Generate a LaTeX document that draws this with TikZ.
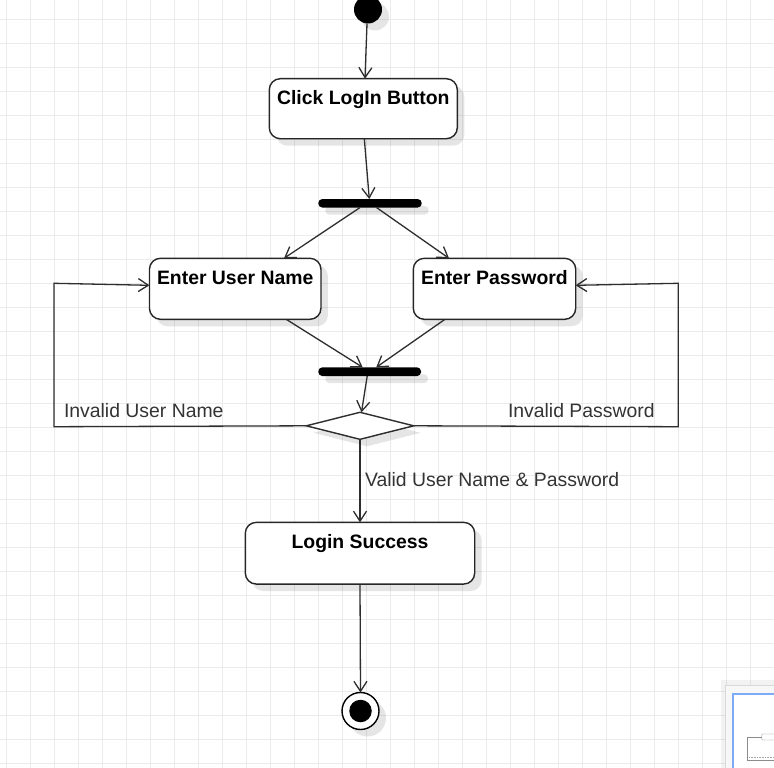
\documentclass[tikz,border=0pt]{standalone}
\usepackage{fontspec}
\setmainfont{Liberation Sans}
\usetikzlibrary{arrows.meta,shapes.geometric,shadows}
\definecolor{gridc}{HTML}{EBEBEB}
\definecolor{linec}{HTML}{2E2E2E}
\definecolor{labc}{HTML}{333333}
\definecolor{outblue}{HTML}{7FAAF5}
\begin{document}
\begin{tikzpicture}[x=1pt,y=-1pt,
  every node/.style={inner sep=0pt, outer sep=0pt},
  softshadow/.style={drop shadow={shadow xshift=7pt,shadow yshift=-7pt,fill=black,opacity=0.1,draw=none}},
  actbox/.style={draw=black!85, line width=1.4pt, rounded corners=11pt, fill=white, softshadow},
  boxtext/.style={font=\fontsize{19.4}{23}\selectfont\bfseries, text=black},
  lab/.style={font=\fontsize{19.4}{23}\selectfont, text=labc, anchor=base west},
  forkbar/.style={fill=black, rounded corners=4pt, minimum width=103pt, minimum height=8.5pt, softshadow},
  conn/.style={draw=linec, line width=1.3pt, -{Straight Barb[length=10pt,width=13pt,line width=1.3pt]}},
]
% background and bounds
\fill[white] (0,0) rectangle (774,768);
\useasboundingbox (0,0) rectangle (774,768);
\foreach \gx in {6,30,...,774} \draw[gridc, line width=0.9pt] (\gx,0) -- (\gx,768);
\foreach \gy in {19,43,...,768} \draw[gridc, line width=0.9pt] (0,\gy) -- (774,\gy);

% nodes
\node[circle, fill=black, minimum size=28pt, softshadow] (init) at (368,9.5) {};
\node[actbox, minimum width=188pt, minimum height=60pt,
      label={[boxtext, anchor=base, yshift=-25.6pt]north:Click LogIn Button}] (click) at (363.3,108.7) {};
\node[forkbar, minimum width=103.4pt] (fork1) at (370,203.3) {};
\node[actbox, minimum width=171.5pt, minimum height=61pt,
      label={[boxtext, anchor=base, yshift=-26pt]north:Enter User Name}] (user) at (235.2,288.8) {};
\node[actbox, minimum width=162.4pt, minimum height=61pt,
      label={[boxtext, anchor=base, yshift=-26pt]north:Enter Password}] (pass) at (494.5,288.8) {};
\node[forkbar, minimum width=102.7pt, minimum height=8.7pt] (fork2) at (369.7,371.7) {};
\node[diamond, draw=linec, line width=1.4pt, fill=white, minimum width=107.3pt, minimum height=27pt, aspect=4, softshadow] (dec) at (360,425.8) {};
\node[actbox, minimum width=229.4pt, minimum height=61.7pt,
      label={[boxtext, anchor=base, yshift=-26pt]north:Login Success}] (login) at (360,553.2) {};
\node[circle, draw=black, line width=1.4pt, fill=white, minimum size=37pt, softshadow] (final) at (360.5,711) {};
\node[circle, fill=black, minimum size=22.5pt] (finalin) at (final) {};

% labels
\node[lab] (invu) at (64,417) {Invalid User Name};
\node[lab] (invp) at (508,417) {Invalid Password};
\node[lab] (valid) at (365,486) {Valid User Name \& Password};

% connectors
\draw[conn] ([xshift=-1pt]init.south) -- ([xshift=1.7pt]click.north);
\draw[conn] ([xshift=1pt]click.south) -- ([xshift=-0.7pt]fork1.north);
\draw[conn] ([xshift=-10pt]fork1.south) -- ([xshift=48.8pt]user.north);
\draw[conn] ([xshift=6.5pt]fork1.south) -- ([xshift=-45.5pt]pass.north);
\draw[conn] ([xshift=51pt]user.south) -- ([xshift=-7pt]fork2.north);
\draw[conn] ([xshift=-49.5pt]pass.south) -- ([xshift=6.5pt]fork2.north);
\draw[conn] ([xshift=-2.5pt]fork2.south) -- ([xshift=1.5pt]dec.north);
\draw[conn] (dec.south) -- (login.north);
\draw[conn] (login.south) -- (final.north);

\coordinate (l1) at (54,426.7);
\coordinate (l2) at (54,283.3);
\coordinate (r1) at (678.3,426.7);
\coordinate (r2) at (678.3,283.3);
\draw[conn] (dec.west) -- (l1) -- (l2) -- ([yshift=3.5pt]user.west);
\draw[conn] (dec.east) -- (r1) -- (r2) -- ([yshift=3.5pt]pass.east);

% outline panel (bottom right)
\fill[black, opacity=0.05] (721,680) rectangle (780,775);
\draw[black!15, fill=black!3] (725,685) rectangle (780,775);
\draw[outblue, line width=1.3pt, fill=white] (733,694) rectangle (780,775);
\draw[black!45, line width=0.4pt, rounded corners=1pt] (761.7,734) rectangle (776,740);
\draw[black!45, line width=0.4pt] (761.7,737.5) -- (747,737.5) -- (747,760) -- (776,760);
\draw[black!35, line width=0.8pt, dash pattern=on 1pt off 0.6pt] (749,757.5) -- (774,757.5);
\end{tikzpicture}
\end{document}
